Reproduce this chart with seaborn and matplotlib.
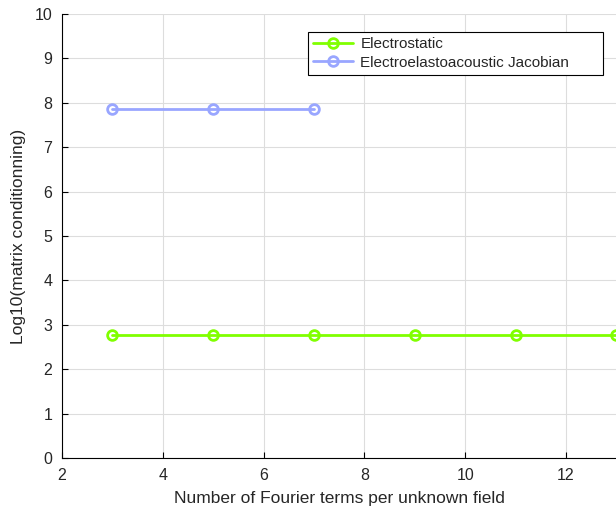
import matplotlib
matplotlib.use("Agg")
import matplotlib.pyplot as plt
import seaborn as sns
import pandas as pd

# Data
x_electrostatic = [3, 5, 7, 9, 11, 13]
y_electrostatic = [2.78, 2.78, 2.78, 2.78, 2.78, 2.78]
x_jacobian = [3, 5, 7]
y_jacobian = [7.85, 7.85, 7.85]
series_names = ["Electrostatic", "Electroelastoacoustic Jacobian"]
colors = ["#80FF00", "#99A6FF"]

sns.set_style("whitegrid")
plt.rcParams['font.family'] = ['Liberation Sans', 'DejaVu Sans']

df = pd.concat([
    pd.DataFrame({"x": x_electrostatic, "y": y_electrostatic, "series": series_names[0]}),
    pd.DataFrame({"x": x_jacobian, "y": y_jacobian, "series": series_names[1]}),
])

fig = plt.figure(figsize=(6.16, 5.15), dpi=100)
ax = fig.add_axes([0.1006, 0.1107, 0.9, 0.8621])

sns.lineplot(data=df, x="x", y="y", hue="series", palette=colors, ax=ax,
             marker="o", markersize=7, markerfacecolor="none", markeredgewidth=2,
             linewidth=2, clip_on=False)
for line, c in zip(ax.lines, colors):
    line.set_markeredgecolor(c)
    line.set_markerfacecolor("none")

ax.set_xlim(2, 13)
ax.set_ylim(0, 10)
ax.set_xticks([2, 4, 6, 8, 10, 12])
ax.set_yticks(range(0, 11))
ax.grid(True, color="#dddddd", linewidth=0.8)
for s in ["top", "right"]:
    ax.spines[s].set_visible(False)
for s in ["left", "bottom"]:
    ax.spines[s].set_color("black")
    ax.spines[s].set_linewidth(0.8)
ax.tick_params(axis="both", which="both", direction="in", length=4, color="black",
               labelsize=11.5, left=True, bottom=True, pad=7)
ax.set_xlabel("Number of Fourier terms per unknown field", fontsize=12.5, labelpad=6)
ax.set_ylabel("Log10(matrix conditionning)", fontsize=12.5, labelpad=6)

handles, labels = ax.get_legend_handles_labels()
for h, c in zip(handles, colors):
    h.set_marker("o"); h.set_markerfacecolor("none"); h.set_markeredgecolor(c)
    h.set_markeredgewidth(2); h.set_markersize(7); h.set_linewidth(2)
leg = ax.legend(handles, labels, loc="upper left", bbox_to_anchor=(0.443, 0.0, 0.532, 0.96),
                mode="expand",
                fontsize=11, frameon=True, fancybox=False, edgecolor="black",
                framealpha=1, borderpad=0.35, labelspacing=0.3, handlelength=2.6,
                handletextpad=0.5, borderaxespad=0)
leg.get_frame().set_linewidth(0.8)

fig.savefig("out.png", dpi=100)
